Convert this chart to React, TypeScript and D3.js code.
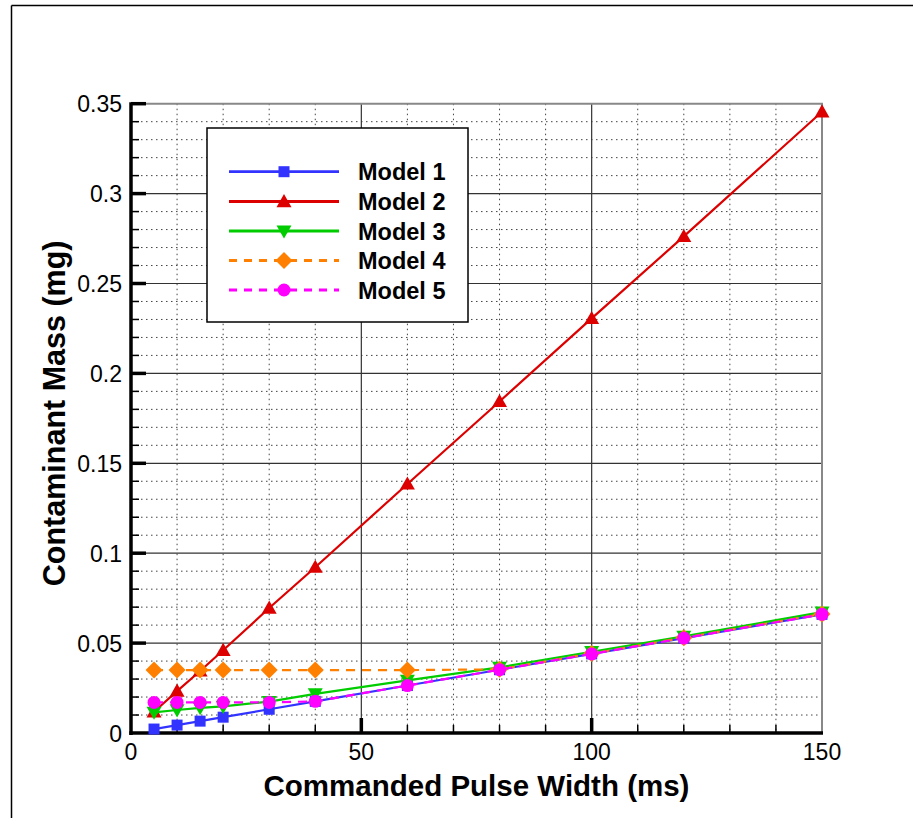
import React, { useEffect } from "react";
import * as d3 from "d3";

const pulseWidth = [5, 10, 15, 20, 30, 40, 60, 80, 100, 120, 150];
const model1 = [0.0022, 0.0044, 0.0066, 0.0088, 0.0132, 0.0176, 0.0264, 0.0352, 0.044, 0.0528, 0.066];
const model2 = [0.0118, 0.0233, 0.0345, 0.046, 0.0695, 0.0922, 0.1385, 0.1844, 0.2306, 0.2762, 0.3455];
const model3 = [0.0115, 0.0128, 0.014, 0.0148, 0.0175, 0.0218, 0.0293, 0.0365, 0.0452, 0.0538, 0.0672];
const model4 = [0.035, 0.035, 0.035, 0.035, 0.035, 0.035, 0.035, 0.0354, 0.0442, 0.053, 0.0662];
const model5 = [0.017, 0.017, 0.017, 0.017, 0.017, 0.0176, 0.0264, 0.0352, 0.044, 0.0528, 0.066];

const seriesNames = ["Model 1", "Model 2", "Model 3", "Model 4", "Model 5"];
const seriesColors = ["#3333ff", "#dd0000", "#00cc00", "#ff8000", "#ff00ff"];
const seriesMarkers = ["square", "triangle", "triangleDown", "diamond", "circle"];
const seriesDashed = [false, false, false, true, true];

const xTicks = [0, 50, 100, 150];
const yTicks = [0, 0.05, 0.1, 0.15, 0.2, 0.25, 0.3, 0.35];
const yTickLabels = ["0", "0.05", "0.1", "0.15", "0.2", "0.25", "0.3", "0.35"];

const xTitle = "Commanded Pulse Width (ms)";
const yTitle = "Contaminant Mass (mg)";

const W = 920;
const H = 818;
const L = 131;
const R = 822;
const T = 103.7;
const B = 733;

function Marker({ type, x, y, color }: { type: string; x: number; y: number; color: string }) {
  if (type === "square") return <rect x={x - 5.5} y={y - 5.5} width={11} height={11} fill={color} />;
  if (type === "triangle") {
    const s = 7.5;
    return <path d={`M${x},${y - s}L${x + s},${y + s * 0.75}L${x - s},${y + s * 0.75}Z`} fill={color} />;
  }
  if (type === "triangleDown") {
    const s = 7.5;
    return <path d={`M${x},${y + s}L${x + s},${y - s * 0.75}L${x - s},${y - s * 0.75}Z`} fill={color} />;
  }
  if (type === "diamond") {
    const s = 8.5;
    return <path d={`M${x},${y - s}L${x + s},${y}L${x},${y + s}L${x - s},${y}Z`} fill={color} />;
  }
  return <circle cx={x} cy={y} r={6.5} fill={color} />;
}

export default function App() {
  useEffect(() => {
    document.body.style.margin = "0";
  }, []);

  const x = d3.scaleLinear().domain([0, 150]).range([L, R]);
  const y = d3.scaleLinear().domain([0, 0.35]).range([B, T]);

  const allSeries = [model1, model2, model3, model4, model5];
  const line = d3
    .line<number>()
    .x((_, i) => x(pulseWidth[i]))
    .y((d) => y(d));

  const minorX = d3.range(10, 150, 10).filter((v) => v % 50 !== 0);
  const minorY = d3.range(1, 35).filter((v) => v % 5 !== 0).map((v) => v / 100);
  const majorXGrid = [50, 100];
  const majorYGrid = [0.05, 0.1, 0.15, 0.2, 0.25, 0.3];

  const font = "'Liberation Sans', Arial, Helvetica, sans-serif";

  const legendX = 207;
  const legendY = 128;
  const legendRows = [171.7, 201.5, 231, 260.5, 290];

  return (
    <svg width={W} height={H} style={{ display: "block", background: "#fff" }} fontFamily={font}>
      {/* outer frame */}
      <line x1={11.5} y1={5.5} x2={913} y2={5.5} stroke="#000" strokeWidth={1.5} />
      <line x1={11.5} y1={5.5} x2={11.5} y2={H} stroke="#000" strokeWidth={1.5} />

      {/* minor grid */}
      {minorX.map((v) => (
        <line key={"mx" + v} x1={x(v)} x2={x(v)} y1={T} y2={B} stroke="#444" strokeWidth={1} strokeDasharray="1.5,3.5" />
      ))}
      {minorY.map((v) => (
        <line key={"my" + v} x1={L} x2={R} y1={y(v)} y2={y(v)} stroke="#444" strokeWidth={1} strokeDasharray="1.5,3.5" />
      ))}
      {/* major grid */}
      {majorXGrid.map((v) => (
        <line key={"Mx" + v} x1={x(v)} x2={x(v)} y1={T} y2={B} stroke="#333" strokeWidth={1.2} />
      ))}
      {majorYGrid.map((v) => (
        <line key={"My" + v} x1={L} x2={R} y1={y(v)} y2={y(v)} stroke="#333" strokeWidth={1.2} />
      ))}
      {/* top & right borders */}
      <line x1={L} x2={R + 1} y1={T} y2={T} stroke="#888" strokeWidth={2} />
      <line x1={R} x2={R} y1={T} y2={B} stroke="#888" strokeWidth={2} />

      {/* ticks */}
      {minorX.map((v) => (
        <line key={"tx" + v} x1={x(v)} x2={x(v)} y1={B} y2={B - 8} stroke="#000" strokeWidth={1.5} />
      ))}
      {majorXGrid.map((v) => (
        <line key={"Tx" + v} x1={x(v)} x2={x(v)} y1={B} y2={B - 15} stroke="#000" strokeWidth={3.5} />
      ))}
      {minorY.map((v) => (
        <line key={"ty" + v} x1={L} x2={L + 8} y1={y(v)} y2={y(v)} stroke="#000" strokeWidth={1.5} />
      ))}
      {yTicks.slice(1).map((v) => (
        <line key={"Ty" + v} x1={L} x2={L + 15} y1={y(v)} y2={y(v)} stroke="#000" strokeWidth={3.5} />
      ))}

      {/* axes */}
      <line x1={L} x2={L} y1={T - 1.5} y2={B + 2} stroke="#000" strokeWidth={3.5} />
      <line x1={L - 1.7} x2={R + 1} y1={B} y2={B} stroke="#000" strokeWidth={3.5} />

      {/* tick labels */}
      {xTicks.map((v) => (
        <text key={"xl" + v} x={x(v)} y={B + 26.5} textAnchor="middle" fontSize={23} fill="#000">
          {String(v)}
        </text>
      ))}
      {yTicks.map((v, i) => (
        <text key={"yl" + v} x={L - 9} y={y(v) + 8.5} textAnchor="end" fontSize={23} fill="#000">
          {yTickLabels[i]}
        </text>
      ))}

      {/* axis titles */}
      <text x={(L + R) / 2} y={796} textAnchor="middle" fontSize={29.5} fontWeight="bold" fill="#000">
        {xTitle}
      </text>
      <text
        transform={`translate(${65},${(T + B) / 2 - 5}) rotate(-90)`}
        textAnchor="middle"
        fontSize={30.5}
        fontWeight="bold"
        fill="#000"
      >
        {yTitle}
      </text>

      {/* series */}
      {allSeries.map((s, si) => (
        <g key={"s" + si}>
          <path
            d={line(s) || ""}
            fill="none"
            stroke={seriesColors[si]}
            strokeWidth={2.2}
            strokeDasharray={seriesDashed[si] ? "9,7" : undefined}
          />
          {s.map((v, i) => (
            <Marker key={i} type={seriesMarkers[si]} x={x(pulseWidth[i])} y={y(v)} color={seriesColors[si]} />
          ))}
        </g>
      ))}

      {/* legend */}
      <rect x={legendX} y={legendY} width={261} height={194} fill="#fff" stroke="#000" strokeWidth={1.5} />
      {seriesNames.map((n, i) => (
        <g key={"lg" + i}>
          <line
            x1={229}
            x2={339}
            y1={legendRows[i]}
            y2={legendRows[i]}
            stroke={seriesColors[i]}
            strokeWidth={2.8}
            strokeDasharray={seriesDashed[i] ? "8,7" : undefined}
          />
          <Marker type={seriesMarkers[i]} x={284} y={legendRows[i]} color={seriesColors[i]} />
          <text x={358} y={legendRows[i] + 8.5} fontSize={23.5} fontWeight="bold" fill="#000">
            {n}
          </text>
        </g>
      ))}
    </svg>
  );
}
